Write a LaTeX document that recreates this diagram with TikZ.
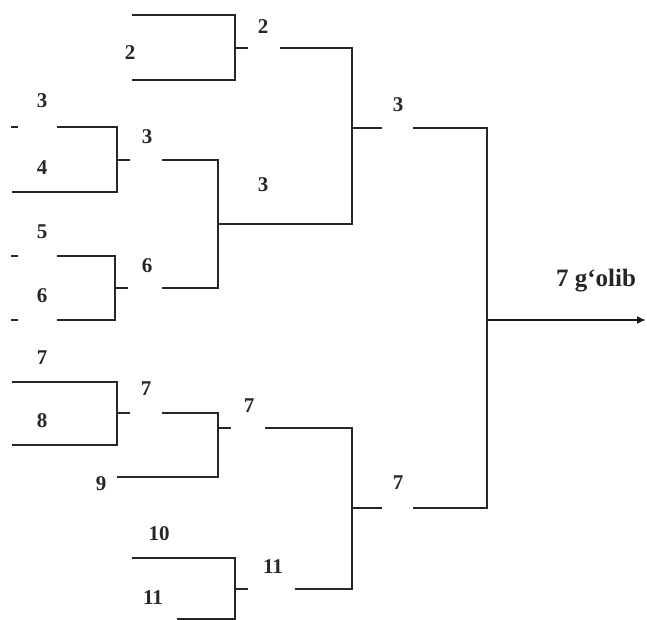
\documentclass[tikz,border=0pt]{standalone}
\usepackage{fontspec}
\setmainfont{Liberation Serif}
\usetikzlibrary{arrows.meta}

\begin{document}
\begin{tikzpicture}[
  x=0.5pt,y=-0.5pt,
  bline/.style={line width=1pt,draw=black!85},
  win/.style={-{Latex[length=4.5pt,width=4pt]},line width=1.1pt,draw=black!90},
  lab/.style={font=\fontsize{10.5pt}{12pt}\selectfont\bfseries,inner sep=0pt,text=black!85}
]
\useasboundingbox (0,0) rectangle (647,620);
% joints and open ends of the brackets
\coordinate (aJ) at (235,48);  \coordinate (aW) at (280,48);
\coordinate (bJ) at (117,160); \coordinate (bW) at (162,160);
\coordinate (cJ) at (115,288); \coordinate (cW) at (162,288);
\coordinate (dJ) at (218,224);
\coordinate (eJ) at (352,128); \coordinate (eW) at (413,128);
\coordinate (fJ) at (117,413); \coordinate (fW) at (162,413);
\coordinate (gJ) at (218,428); \coordinate (gW) at (265,428);
\coordinate (hJ) at (235,589); \coordinate (hW) at (295,589);
\coordinate (iJ) at (352,508); \coordinate (iW) at (413,508);
\coordinate (fin) at (487,320); \coordinate (out) at (646,320);
% players
\coordinate (p1) at (132,15);  \coordinate (p2) at (132,80);
\coordinate (p3) at (57,127);  \coordinate (p4) at (12,192);
\coordinate (p5) at (57,256);  \coordinate (p6) at (57,320);
\coordinate (p7) at (12,382);  \coordinate (p8) at (12,445);
\coordinate (p9) at (117,477);
\coordinate (p10) at (132,558); \coordinate (p11) at (177,619);

% first round
\draw[bline] (p1) -| (aJ) |- (p2);
\draw[bline] (p3) -| (bJ) |- (p4);
\draw[bline] (p5) -| (cJ) |- (p6);
\draw[bline] (p7) -| (fJ) |- (p8);
\draw[bline] (p10) -| (hJ) |- (p11);
\draw[bline] (11,127) -- (18,127);
\draw[bline] (11,256) -- (18,256);
\draw[bline] (11,320) -- (18,320);
% stubs
\draw[bline] (aJ) -- ++(13,0);
\draw[bline] (bJ) -- ++(13,0);
\draw[bline] (cJ) -- ++(13,0);
\draw[bline] (fJ) -- ++(13,0);
\draw[bline] (gJ) -- ++(13,0);
\draw[bline] (hJ) -- ++(13,0);
\draw[bline] (eJ) -- ++(30,0);
\draw[bline] (iJ) -- ++(30,0);
% later rounds
\draw[bline] (bW) -| (dJ) |- (cW);
\draw[bline] (fW) -| (gJ) |- (p9);
\draw[bline] (aW) -| (eJ) |- (dJ);
\draw[bline] (gW) -| (iJ) |- (hW);
\draw[bline] (eW) -| (fin) |- (iW);
\draw[win] (fin) -- (out);

% labels
\node[lab] (n2) at (130,53) {2};
\node[lab] (n3) at (42,101) {3};
\node[lab] (n4) at (42,168) {4};
\node[lab] (n5) at (42,232) {5};
\node[lab] (n6) at (42,296) {6};
\node[lab] (n7) at (42,358) {7};
\node[lab] (n8) at (42,421) {8};
\node[lab] (n9) at (101,484) {9};
\node[lab] (n10) at (159,534) {10};
\node[lab] (n11) at (153,598) {11};
\node[lab] (wa) at (263,27) {2};
\node[lab] (wb) at (147,137) {3};
\node[lab] (wc) at (147,266) {6};
\node[lab] (wd) at (263,185) {3};
\node[lab] (we) at (398,105) {3};
\node[lab] (wf) at (146,389) {7};
\node[lab] (wg) at (249,406) {7};
\node[lab] (wh) at (273,567) {11};
\node[lab] (wi) at (398,483) {7};
\node[lab,font=\fontsize{12.5pt}{14pt}\selectfont\bfseries] (champ) at (596,281) {7 g‘olib};
\end{tikzpicture}
\end{document}
